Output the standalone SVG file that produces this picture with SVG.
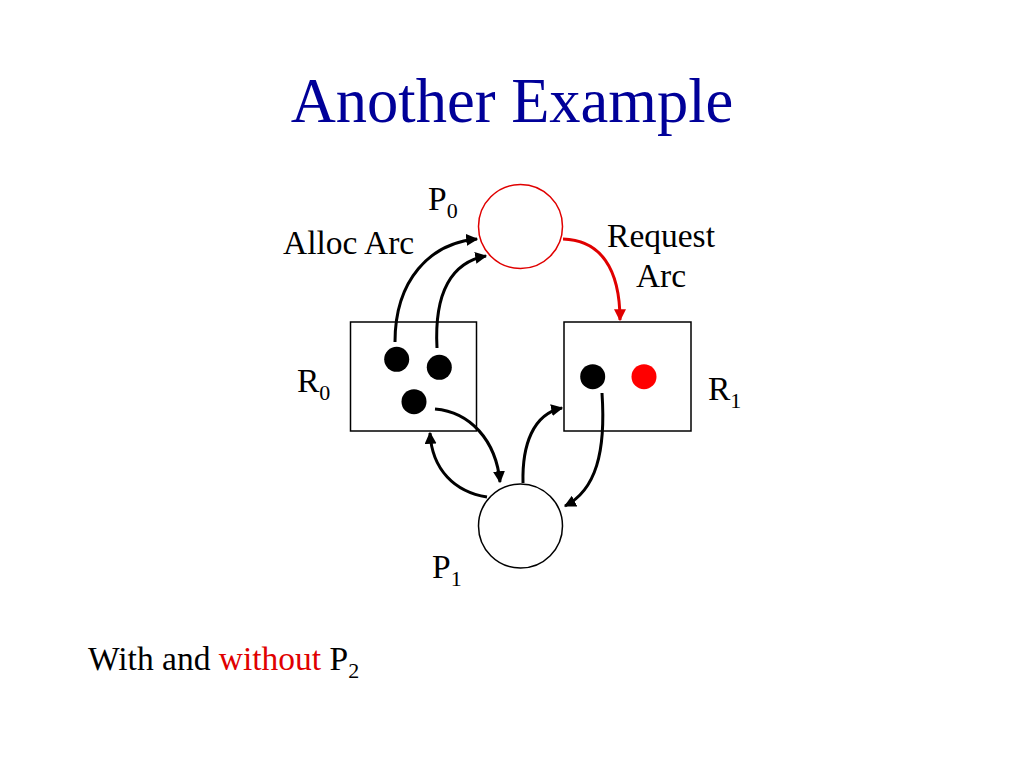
<svg xmlns="http://www.w3.org/2000/svg" width="1024" height="768" viewBox="0 0 1024 768">
<defs>
<style>
.t{font-family:"Liberation Serif","Times New Roman",serif;font-size:33.5px;fill:#000}
.title{font-family:"Liberation Serif","Times New Roman",serif;font-size:62.5px;fill:#000099}
.sub{font-size:22px}
.box{fill:#fff;stroke:#000;stroke-width:1.5}
.arc{fill:none;stroke:#000;stroke-width:3}
.req{fill:none;stroke:#e00000;stroke-width:3}
</style>
<marker id="ah" viewBox="0 0 10 10" refX="9" refY="5" markerWidth="4" markerHeight="4" markerUnits="strokeWidth" orient="auto">
<path d="M0,0 L10,5 L0,10 z" fill="#000"/>
</marker>
<marker id="ahr" viewBox="0 0 10 10" refX="9" refY="5" markerWidth="4" markerHeight="4" markerUnits="strokeWidth" orient="auto">
<path d="M0,0 L10,5 L0,10 z" fill="#e00000"/>
</marker>
</defs>
<rect width="1024" height="768" fill="#fff"/>
<text class="title" x="512" y="122" text-anchor="middle">Another Example</text>

<g id="P0">
<circle cx="520.5" cy="226.5" r="42" fill="#fff" stroke="#e00000" stroke-width="1.5"/>
<text class="t" x="428" y="210">P<tspan class="sub" dy="8">0</tspan></text>
</g>
<g id="R0">
<rect class="box" x="350.5" y="322" width="126" height="109"/>
<circle cx="396.7" cy="359.3" r="12.5" fill="#000"/>
<circle cx="439.3" cy="367.3" r="12.5" fill="#000"/>
<circle cx="414" cy="401.7" r="12.5" fill="#000"/>
<text class="t" x="297" y="392">R<tspan class="sub" dy="8">0</tspan></text>
</g>
<g id="R1">
<rect class="box" x="564" y="322" width="127" height="109"/>
<circle cx="592.7" cy="376.7" r="12.5" fill="#000"/>
<circle cx="644" cy="376.7" r="12.5" fill="#ff0000"/>
<text class="t" x="708" y="400">R<tspan class="sub" dy="8">1</tspan></text>
</g>
<g id="P1">
<circle cx="520.5" cy="526" r="42" fill="#fff" stroke="#000" stroke-width="1.5"/>
<text class="t" x="432" y="578">P<tspan class="sub" dy="8">1</tspan></text>
</g>

<g id="labels">
<text class="t" x="283" y="254">Alloc Arc</text>
<text class="t" x="661" y="247" text-anchor="middle">Request</text>
<text class="t" x="661" y="287" text-anchor="middle">Arc</text>
<text class="t" x="88" y="670">With and <tspan fill="#e00000">without</tspan> P<tspan class="sub" dy="8">2</tspan></text>
</g>

<g id="connectors">
<path class="arc" d="M395,342 C395,280 430,243 477,239" marker-end="url(#ah)"/>
<path class="arc" d="M437,348 C434,292 452,262 486,256" marker-end="url(#ah)"/>
<path class="req" d="M563,239 C600,240 620,268 620,320" marker-end="url(#ahr)"/>
<path class="arc" d="M435,409 C470,412 496,440 500,482" marker-end="url(#ah)"/>
<path class="arc" d="M487,497 C455,492 432,470 430,433" marker-end="url(#ah)"/>
<path class="arc" d="M523,483 C522,445 533,414 562,408" marker-end="url(#ah)"/>
<path class="arc" d="M602,393 C606,452 596,490 565,506" marker-end="url(#ah)"/>
</g>
</svg>
